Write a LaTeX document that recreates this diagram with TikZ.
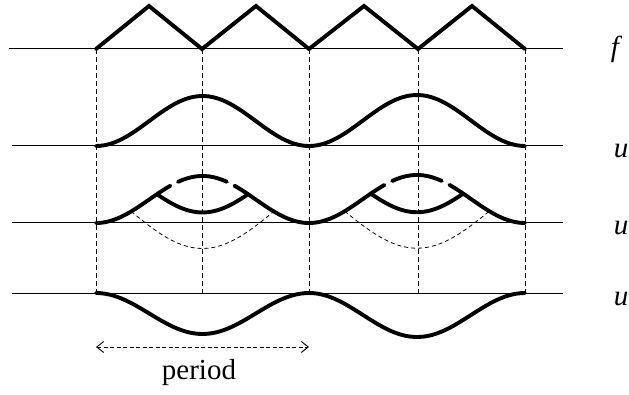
\documentclass[tikz,border=0pt]{standalone}
\usepackage{fontspec}
\setmainfont{Liberation Serif}[ItalicFont={Liberation Serif Italic}]
\usetikzlibrary{arrows.meta}
\newcommand\bumpcurve[7]{% style, x0, x1, base, A, t0, t1
  \draw[#1] plot[domain=#6:#7, samples=50, smooth, variable=\t]
    ({#2+\t*(#3-#2)},{#4+#5*(1-cos(360*\t))/2});}
\newcommand\innercurve[6]{% style, x0, x1, base, A, tj
  \draw[#1] plot[domain=#6:1-#6, samples=50, smooth, variable=\t]
    ({#2+\t*(#3-#2)},{2*(#4+#5*(1-cos(360*#6))/2)-(#4+#5*(1-cos(360*\t))/2)});}
\newcommand\lowcurve[7]{% style, x0, x1, base, A, t0, depth
  \draw[#1] plot[domain=#6:1-#6, samples=50, smooth, variable=\t]
    ({#2+\t*(#3-#2)},{#4+#5*(1-cos(360*#6))/2-#7*sin(180*(\t-#6)/(1-2*#6))});}
\begin{document}
\begin{tikzpicture}[x=1pt,y=1pt,
  thickc/.style={line width=3.9pt, line cap=round, line join=round},
  axisline/.style={line width=1pt},
  vdash/.style={line width=0.9pt, dash pattern=on 5pt off 3pt},
  thindash/.style={line width=0.8pt, dash pattern=on 4pt off 3pt},
  lbl/.style={font=\fontsize{29}{30}\selectfont, inner sep=0pt}]
\useasboundingbox (0,0) rectangle (629,394);
% axes
\draw[axisline] (9,345) -- (563,345);
\draw[axisline] (12,248) -- (563,248);
\draw[axisline] (12,171) -- (563,171);
\draw[axisline] (12,101) -- (563,101);
% vertical dashed lines
\foreach \xx in {96,202,309,418,525}
  \draw[vdash] (\xx,345) -- (\xx,101);
% f: triangle wave
\draw[thickc, line join=miter] (96,345) -- (149,388) -- (202,345) -- (256,388) -- (309,345)
  -- (364,388) -- (418,345) -- (472,388) -- (525,345);
% row 2
\bumpcurve{thickc}{96}{309}{248}{50}{0}{1}
\bumpcurve{thickc}{309}{525}{248}{51}{0}{1}
% row 3
\foreach \xa/\xb/\am in {96/309/47, 309/525/48} {
  \bumpcurve{thickc}{\xa}{\xb}{171}{\am}{0}{0.286}
  \bumpcurve{thickc}{\xa}{\xb}{171}{\am}{0.714}{1}
  \bumpcurve{thickc}{\xa}{\xb}{171}{\am}{0.286}{0.35}
  \bumpcurve{thickc}{\xa}{\xb}{171}{\am}{0.385}{0.615}
  \bumpcurve{thickc}{\xa}{\xb}{171}{\am}{0.65}{0.714}
  \innercurve{thickc}{\xa}{\xb}{171}{\am}{0.286}
  \lowcurve{thindash}{\xa}{\xb}{171}{\am}{0.165}{37}
}
% row 4
\bumpcurve{thickc}{96}{309}{101}{-41}{0}{1}
\bumpcurve{thickc}{309}{525}{101}{-44}{0}{1}
% period arrow
\coordinate (pa) at (96,47);
\coordinate (pb) at (309,47);
\draw[line width=0.9pt, dash pattern=on 4pt off 2.5pt,
  {Straight Barb[length=7pt,width=11pt]}-{Straight Barb[length=7pt,width=11pt]}] (pa) -- (pb);
\node[lbl, anchor=base] (period) at (199,15) {period};
% labels
\node[lbl, anchor=base] (lf) at (615,337) {\itshape f};
\node[lbl, anchor=base] (lu1) at (621,236) {\itshape u};
\node[lbl, anchor=base] (lu2) at (621,159) {\itshape u};
\node[lbl, anchor=base] (lu3) at (621,89) {\itshape u};
\end{tikzpicture}
\end{document}
